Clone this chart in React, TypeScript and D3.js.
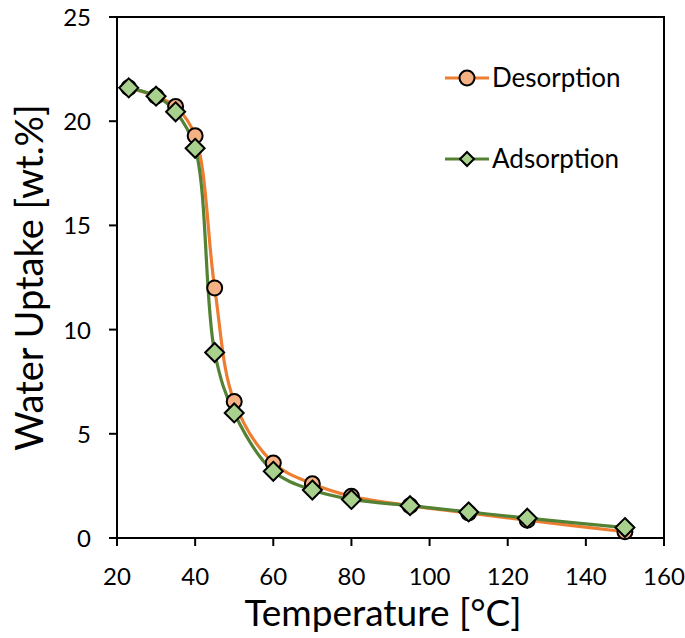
import React from "react";
import * as d3 from "d3";

const temperatures = [23, 30, 35, 40, 45, 50, 60, 70, 80, 95, 110, 125, 150];
const desorption = [21.6, 21.2, 20.7, 19.3, 12.0, 6.55, 3.6, 2.6, 2.0, 1.55, 1.2, 0.85, 0.3];
const adsorption = [21.6, 21.2, 20.45, 18.7, 8.9, 6.0, 3.2, 2.3, 1.85, 1.55, 1.25, 0.95, 0.5];
const xTicks = [20, 40, 60, 80, 100, 120, 140, 160];
const yTicks = [0, 5, 10, 15, 20, 25];
const seriesNames = ["Desorption", "Adsorption"];

const FONT = "Lato, 'Open Sans', sans-serif";

export default function App() {
  const W = 685, H = 638;
  const x = d3.scaleLinear().domain([20, 160]).range([117, 664]);
  const y = d3.scaleLinear().domain([0, 25]).range([538, 17]);

  const line = d3
    .line<number>()
    .x((_, i) => x(temperatures[i]))
    .y((d) => y(d))
    .curve(d3.curveCatmullRom.alpha(0.5));

  const orange = "#ED7D31";
  const orangeFill = "#F4B183";
  const green = "#548235";
  const greenFill = "#A9D18E";

  const diamond = (cx: number, cy: number, r: number) =>
    `M${cx},${cy - r}L${cx + r},${cy}L${cx},${cy + r}L${cx - r},${cy}Z`;

  return (
    <svg
      width={W}
      height={H}
      style={{ position: "absolute", left: 0, top: 0, background: "#fff" }}
    >
      <rect x={x(20)} y={y(25)} width={x(160) - x(20)} height={y(0) - y(25)} fill="none" stroke="#000" strokeWidth={2} />
      {xTicks.map((t) => (
        <g key={"xt" + t}>
          <line x1={x(t)} x2={x(t)} y1={y(0)} y2={y(0) + 8} stroke="#000" strokeWidth={2} />
          <text x={x(t)} y={y(0) + 47} textAnchor="middle" fontFamily={FONT} fontSize={24} fill="#000">
            {t}
          </text>
        </g>
      ))}
      {yTicks.map((t) => (
        <g key={"yt" + t}>
          <line x1={x(20) - 8} x2={x(20)} y1={y(t)} y2={y(t)} stroke="#000" strokeWidth={2} />
          <text x={x(20) - 26} y={y(t) + 9} textAnchor="end" fontFamily={FONT} fontSize={24} fill="#000">
            {t}
          </text>
        </g>
      ))}
      <text x={383} y={626} textAnchor="middle" fontFamily={FONT} fontSize={37} fill="#000">
        Temperature [°C]
      </text>
      <text
        transform={`translate(43,${(y(0) + y(25)) / 2}) rotate(-90)`}
        textAnchor="middle"
        fontFamily={FONT}
        fontSize={38}
        fill="#000"
      >
        Water Uptake [wt.%]
      </text>
      <path d={line(desorption) || ""} fill="none" stroke={orange} strokeWidth={3.2} />
      <path d={line(adsorption) || ""} fill="none" stroke={green} strokeWidth={3.2} />
      {desorption.map((v, i) => (
        <circle key={"d" + i} cx={x(temperatures[i])} cy={y(v)} r={7.5} fill={orangeFill} stroke="#000" strokeWidth={2} />
      ))}
      {adsorption.map((v, i) => (
        <path key={"a" + i} d={diamond(x(temperatures[i]), y(v), 9.5)} fill={greenFill} stroke="#000" strokeWidth={2} />
      ))}
      <g>
        <line x1={445} x2={489} y1={78} y2={78} stroke={orange} strokeWidth={3.2} />
        <circle cx={467} cy={78} r={7.5} fill={orangeFill} stroke="#000" strokeWidth={2} />
        <text x={492} y={87} fontFamily={FONT} fontSize={26} fill="#000">
          {seriesNames[0]}
        </text>
        <line x1={445} x2={489} y1={159} y2={159} stroke={green} strokeWidth={3.2} />
        <path d={diamond(467, 159, 7)} fill={greenFill} stroke="#000" strokeWidth={2} />
        <text x={492} y={168} fontFamily={FONT} fontSize={26} fill="#000">
          {seriesNames[1]}
        </text>
      </g>
    </svg>
  );
}
